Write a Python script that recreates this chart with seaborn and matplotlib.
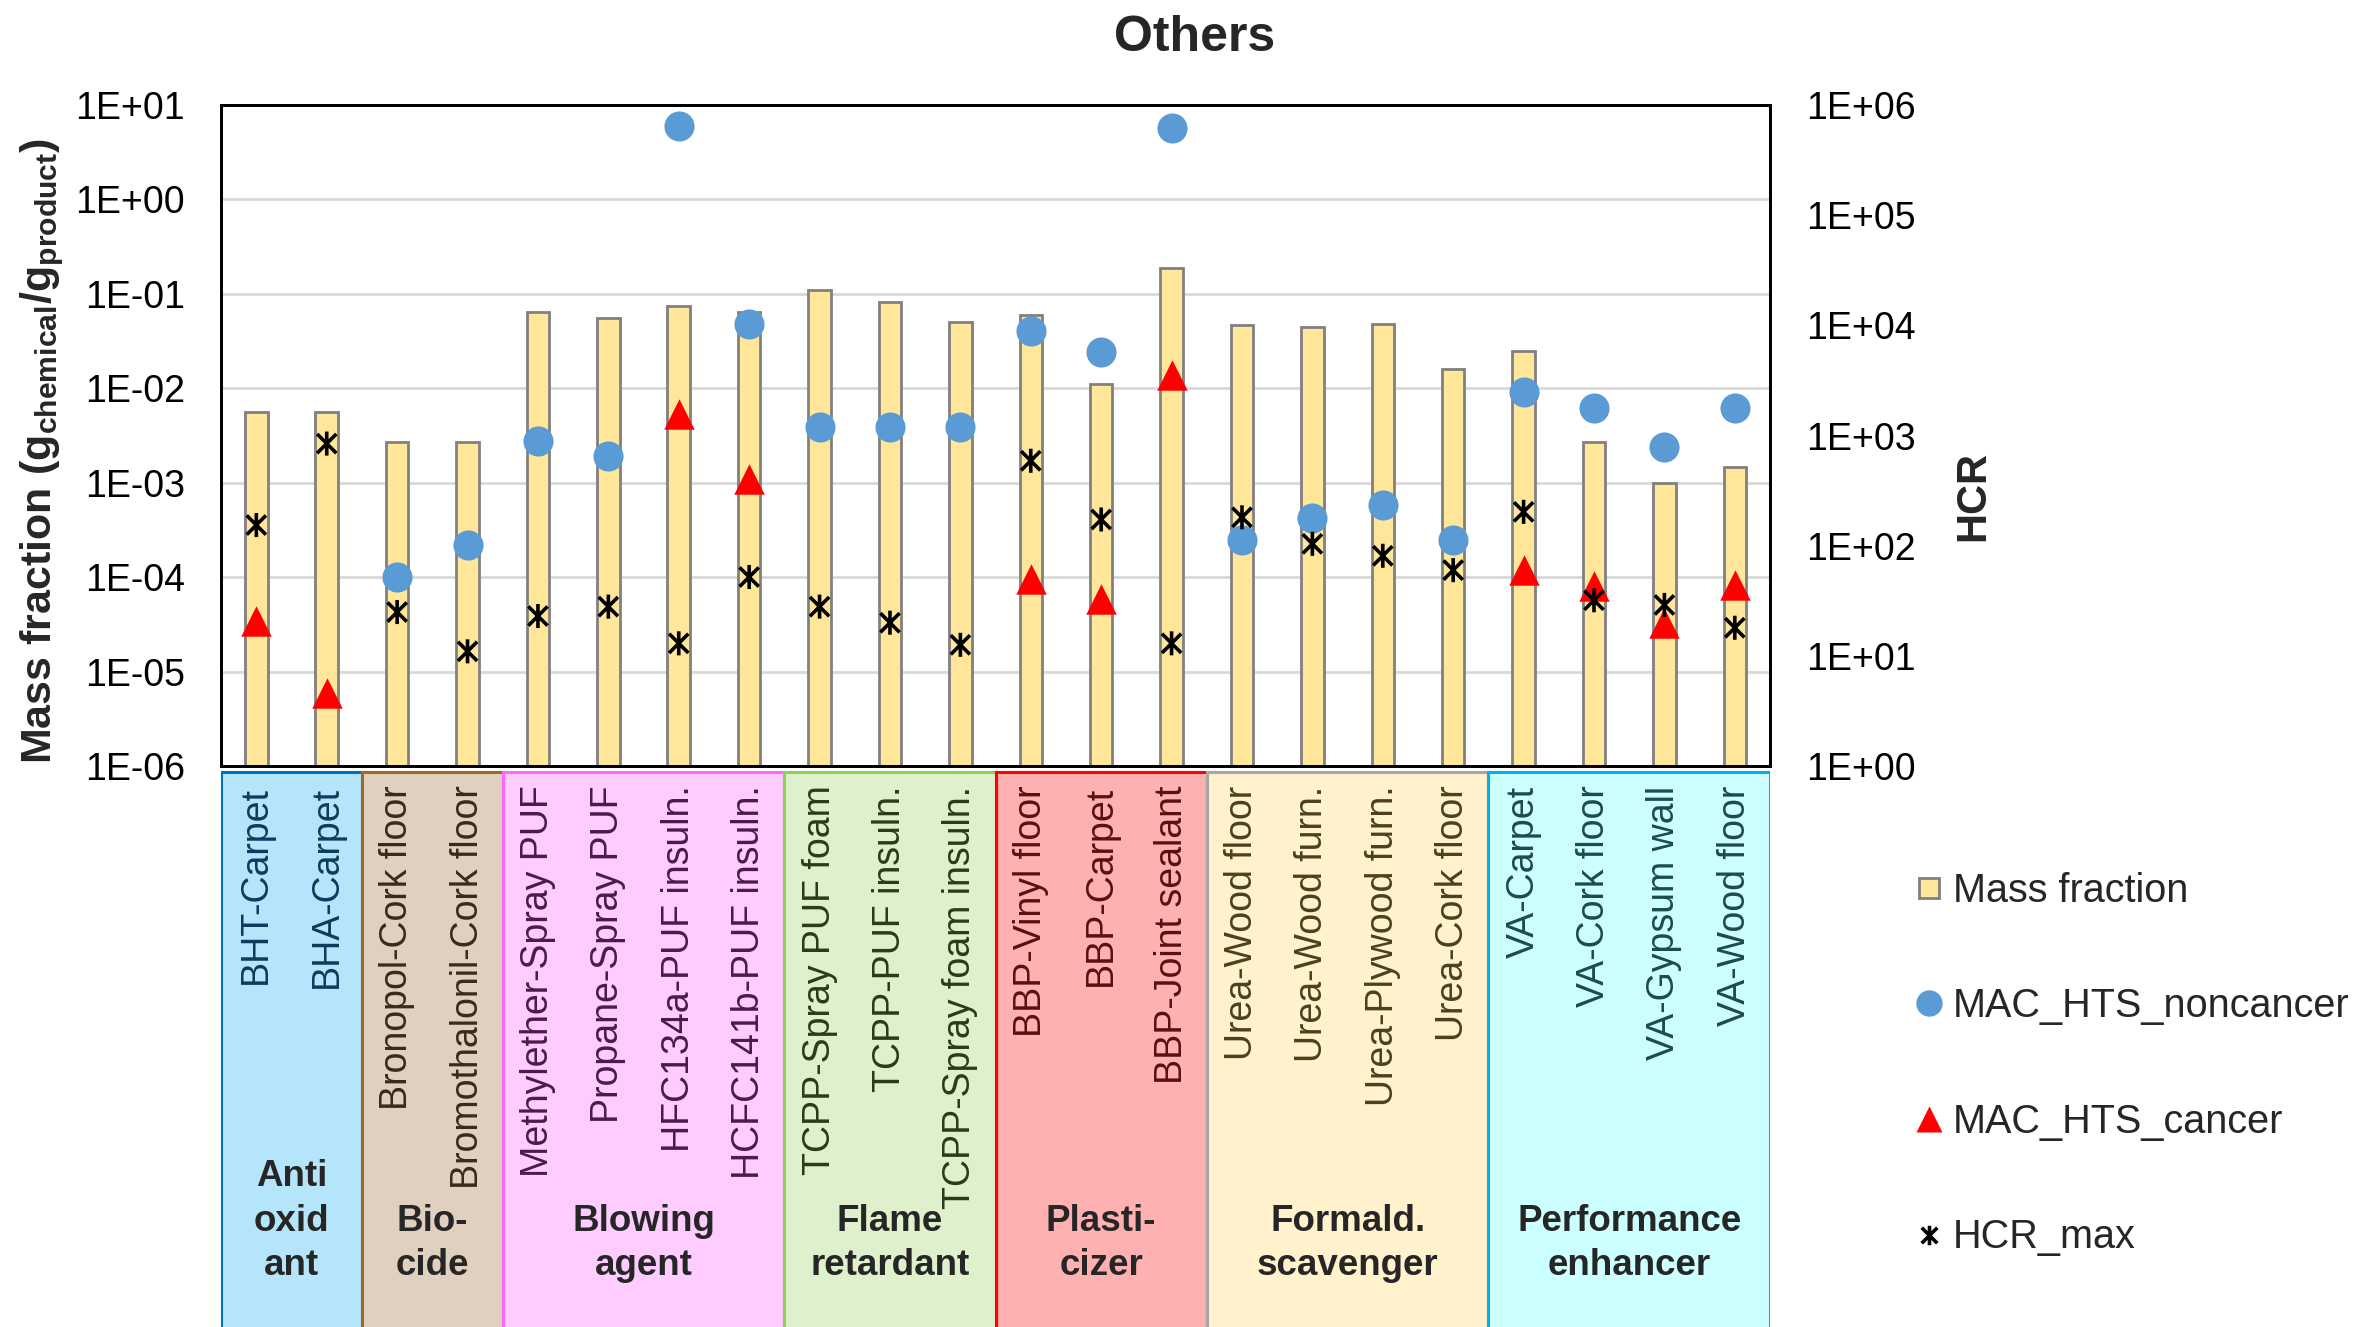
import numpy as np
import pandas as pd
import matplotlib
matplotlib.use("Agg")
import matplotlib.pyplot as plt
import seaborn as sns
from matplotlib.path import Path
from matplotlib.patches import Rectangle
from matplotlib.lines import Line2D
from matplotlib.ticker import FixedLocator, FuncFormatter, NullLocator

products = ['BHT-Carpet', 'BHA-Carpet', 'Bronopol-Cork floor', 'Bromothalonil-Cork floor',
            'Methylether-Spray PUF', 'Propane-Spray PUF', 'HFC134a-PUF insuln.', 'HCFC141b-PUF insuln.',
            'TCPP-Spray PUF foam', 'TCPP-PUF insuln.', 'TCPP-Spray foam insuln.',
            'BBP-Vinyl floor', 'BBP-Carpet', 'BBP-Joint sealant',
            'Urea-Wood floor', 'Urea-Wood furn.', 'Urea-Plywood furn.', 'Urea-Cork floor',
            'VA-Carpet', 'VA-Cork floor', 'VA-Gypsum wall', 'VA-Wood floor']
mass_fraction = [5.6e-3, 5.6e-3, 2.7e-3, 2.7e-3, 0.065, 0.055, 0.074, 0.064, 0.11, 0.082, 0.050,
                 0.060, 0.011, 0.19, 0.047, 0.045, 0.048, 0.016, 0.025, 2.7e-3, 1.0e-3, 1.47e-3]
mac_noncancer = [np.nan, np.nan, 1.0e-4, 2.2e-4, 2.75e-3, 1.9e-3, 6.0, 0.048, 3.9e-3, 3.9e-3, 3.9e-3,
                 0.040, 0.024, 5.7, 2.5e-4, 4.2e-4, 5.8e-4, 2.5e-4, 9.2e-3, 6.2e-3, 2.4e-3, 6.2e-3]
mac_cancer = [3.4e-5, 6.0e-6, np.nan, np.nan, np.nan, np.nan, 5.4e-3, 1.1e-3, np.nan, np.nan, np.nan,
              9.5e-5, 5.9e-5, 0.0137, np.nan, np.nan, np.nan, np.nan, 1.2e-4, 8.0e-5, 3.3e-5, 8.3e-5]
hcr_max = [154, 845, 25, 11, 23, 28, 13, 52, 28, 20, 12.6,
           590, 173, 13, 181, 104, 81, 60, 203, 32, 29, 18]

group_names = ['Anti\noxid\nant', 'Bio-\ncide', 'Blowing\nagent', 'Flame\nretardant',
               'Plasti-\ncizer', 'Formald.\nscavenger', 'Performance\nenhancer']
group_sizes = [2, 2, 4, 3, 3, 4, 4]
group_fill = ['#B4E5FA', '#E0D0C0', '#FFCCFF', '#DEF0CC', '#FFB0B0', '#FFF2CC', '#CCFFFF']
group_edge = ['#0070C0', '#A0682A', '#FF66FF', '#92D050', '#FF0000', '#A6A6A6', '#00B0F0']
group_text = ['#0B3C5D', '#3B2A1A', '#4A1A4A', '#2A3A1A', '#5A1010', '#4A4020', '#1E4A4A']

df = pd.DataFrame({'product': products, 'mass': mass_fraction, 'mac_nc': mac_noncancer,
                   'mac_c': mac_cancer, 'hcr': hcr_max})
df['pos'] = np.arange(len(df))

sns.set_theme(style='white')
plt.rcParams['font.family'] = ['Liberation Sans', 'DejaVu Sans']
plt.rcParams['mathtext.fontset'] = 'custom'
plt.rcParams['mathtext.rm'] = 'Liberation Sans'
plt.rcParams['mathtext.bf'] = 'Liberation Sans:bold'

fig = plt.figure(figsize=(23.6, 13.27), dpi=100)
n = len(df)

# category bands under the chart
axb = fig.add_axes([0.0937, 0.0, 0.6563, 0.4227])
axb.set_xlim(-0.5, n - 0.5)
axb.set_ylim(0, 1)
axb.axis('off')
start = 0
for name, size, fc, ec in zip(group_names, group_sizes, group_fill, group_edge):
    axb.add_patch(Rectangle((start - 0.5, -0.05), size, 1.04, facecolor=fc, edgecolor=ec, lw=2.2))
    axb.text(start - 0.5 + size / 2, 0.078, name, ha='center', va='bottom', fontsize=26.5,
             fontweight='bold', linespacing=1.35)
    start += size

ax = fig.add_axes([0.0937, 0.4227, 0.6563, 0.4982])
sns.barplot(data=df, x='product', y='mass', color='#FFE699', edgecolor='#808080', linewidth=2,
            width=0.32, saturation=1, ax=ax, zorder=2)
ax.set_yscale('log')
ax.set_ylim(1e-6, 10)
ax.set_xlim(-0.5, n - 0.5)

sns.scatterplot(data=df, x='pos', y='mac_nc', color='#5B9BD5', s=470, marker='o', linewidth=0,
                ax=ax, zorder=4, legend=False)
sns.scatterplot(data=df, x='pos', y='mac_c', color='#FF0000', s=480, marker='^', linewidth=0,
                ax=ax, zorder=4, legend=False)

ax_r = ax.twinx()
ast = Path([(-0.8, -0.8), (0.8, 0.8), (-0.8, 0.8), (0.8, -0.8), (0, -1), (0, 1)],
           [Path.MOVETO, Path.LINETO, Path.MOVETO, Path.LINETO, Path.MOVETO, Path.LINETO])
sns.scatterplot(data=df, x='pos', y='hcr', marker=ast, s=300, facecolor='none', edgecolor='black',
                linewidth=2.6, ax=ax_r, zorder=5, legend=False)
ax_r.set_yscale('log')
ax_r.set_ylim(1, 1e6)
ax_r.set_xlim(-0.5, n - 0.5)

fmt = FuncFormatter(lambda v, p: f"1E{int(round(np.log10(v))):+03d}")
ax.yaxis.set_major_locator(FixedLocator([10.0 ** k for k in range(-6, 2)]))
ax.yaxis.set_minor_locator(NullLocator())
ax.yaxis.set_major_formatter(fmt)
ax_r.yaxis.set_major_locator(FixedLocator([10.0 ** k for k in range(0, 7)]))
ax_r.yaxis.set_minor_locator(NullLocator())
ax_r.yaxis.set_major_formatter(fmt)

ax.grid(axis='y', color='#D9D9D9', lw=2, zorder=0)
ax.set_axisbelow(True)
ax.tick_params(axis='y', length=0, pad=26, labelsize=27, colors='black')
ax_r.tick_params(axis='y', length=0, pad=26, labelsize=27, colors='black')
ax.tick_params(axis='x', length=0, pad=14, labelsize=27)
ax.set_xticks(range(n))
ax.set_xticklabels(products, rotation=90)
colors = [c for c, s in zip(group_text, group_sizes) for _ in range(s)]
for lab, c in zip(ax.get_xticklabels(), colors):
    lab.set_color(c)

for a in (ax, ax_r):
    for sp in a.spines.values():
        sp.set_color('black')
        sp.set_linewidth(2)
ax.set_xlabel('')

ax.set_ylabel(r'Mass fraction (g$_{\mathbf{chemical}}$/g$_{\mathbf{product}}$)', fontsize=31,
              fontweight='bold')
ax.yaxis.set_label_coords(-0.1, 0.476)
ax_r.set_ylabel('HCR', fontsize=30, fontweight='bold', rotation=90)
ax_r.yaxis.set_label_coords(1.118, 0.408)

fig.suptitle('Others', fontsize=36, fontweight='bold', x=0.506, y=0.989)

handles = [
    Line2D([], [], ls='none', marker='s', ms=15, mfc='#FFE699', mec='#808080', mew=2),
    Line2D([], [], ls='none', marker='o', ms=19, mfc='#5B9BD5', mec='none'),
    Line2D([], [], ls='none', marker='^', ms=19, mfc='#FF0000', mec='none'),
    Line2D([], [], ls='none', marker=ast, ms=14, mfc='none', mec='black', mew=2.6),
]
fig.legend(handles, ['Mass fraction', 'MAC_HTS_noncancer', 'MAC_HTS_cancer', 'HCR_max'],
           loc='upper left', bbox_to_anchor=(0.804, 0.358), frameon=False, fontsize=28.5,
           handlelength=0.6, handletextpad=0.3, labelspacing=1.96, borderpad=0)

fig.savefig('out.png', dpi=100, facecolor='white')
